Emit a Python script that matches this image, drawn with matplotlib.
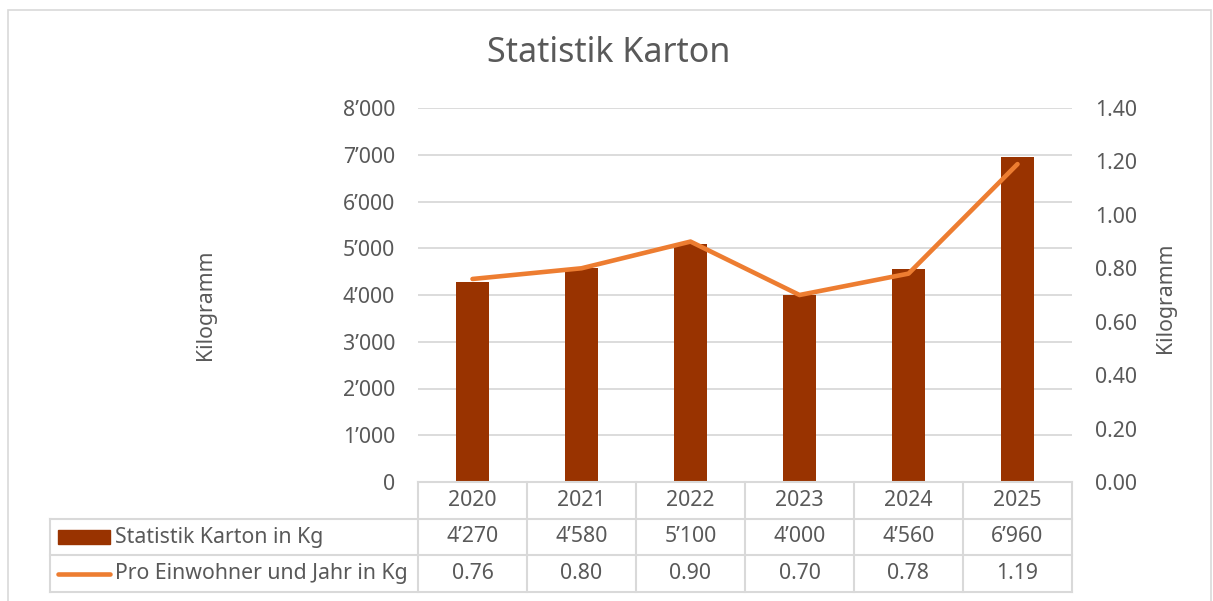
import matplotlib.pyplot as plt
from matplotlib.patches import Rectangle
from matplotlib.lines import Line2D

years = ["2020", "2021", "2022", "2023", "2024", "2025"]
karton_kg = [4270, 4580, 5100, 4000, 4560, 6960]
pro_einwohner = [0.76, 0.80, 0.90, 0.70, 0.78, 1.19]

bar_color = "#993300"
line_color = "#ED7D31"
grid_color = "#D9D9D9"
text_color = "#595959"

plt.rcParams['font.family'] = ['Noto Sans', 'DejaVu Sans']
fs = 15.3

W, H = 1213, 601
fig = plt.figure(figsize=(W / 100, H / 100), dpi=100)


def fx(px):
    return px / W


def fy(py):
    return 1 - py / H


# outer chart border
fig.patches.append(Rectangle((fx(8), fy(620)), fx(1203), fy(10) - fy(620),
                             transform=fig.transFigure, fill=False,
                             edgecolor=grid_color, linewidth=1.2))

left, right, top, bottom = 418, 1072, 108, 482
ax = fig.add_axes([fx(left), fy(bottom), fx(right - left), fy(top) - fy(bottom)])
x = range(len(years))
ax.bar(x, karton_kg, width=0.31, color=bar_color, zorder=2)
ax.set_xlim(-0.5, len(years) - 0.5)
ax.set_ylim(0, 8000)
ax.set_yticks(range(0, 8001, 1000))
ax.set_yticklabels([f"{v:,}".replace(",", "’") for v in range(0, 8001, 1000)],
                   color=text_color, fontsize=fs)
ax.yaxis.grid(True, color=grid_color, linewidth=1.3, zorder=0)
ax.set_xticks([])
for s in ax.spines.values():
    s.set_visible(False)
ax.tick_params(axis="y", length=0, pad=16.5)
ax.set_ylabel("Kilogramm", color=text_color, fontsize=fs)
ax.yaxis.set_label_coords((205 - left) / (right - left), (bottom - 305) / (bottom - top))
ax.yaxis.label.set_va("center")

ax2 = ax.twinx()
ax2.plot(x, pro_einwohner, color=line_color, linewidth=3.3,
         solid_capstyle="round", zorder=3)
ax2.set_ylim(0, 1.4)
ax2.set_yticks([i * 0.2 for i in range(8)])
ax2.set_yticklabels([f"{i * 0.2:.2f}" for i in range(8)], color=text_color, fontsize=fs)
ax2.tick_params(axis="y", length=0, pad=16.5)
for s in ax2.spines.values():
    s.set_visible(False)
ax2.set_ylabel("Kilogramm", color=text_color, fontsize=fs)
ax2.yaxis.set_label_coords((1165 - left) / (right - left), (bottom - 298) / (bottom - top))
ax2.yaxis.label.set_va("center")

fig.text(fx(609), fy(53), "Statistik Karton", ha="center", va="center",
         fontsize=24.5, color=text_color)

# data table below the plot
tleft, tbottom = 50, 592
cw = (right - left) / len(years)
x0 = -0.5 - (left - tleft) / cw
tab = fig.add_axes([fx(tleft), fy(tbottom), fx(right - tleft), fy(bottom) - fy(tbottom)])
tab.set_xlim(x0, len(years) - 0.5)
tab.set_ylim(0, 3)
tab.axis("off")
lk = dict(color=grid_color, linewidth=1.5, clip_on=False)
# horizontal lines
tab.plot([-0.5, len(years) - 0.5], [3, 3], **lk)
for yy in [2, 1, 0]:
    tab.plot([x0, len(years) - 0.5], [yy, yy], **lk)
# vertical lines
tab.plot([x0, x0], [0, 2], **lk)
for i in range(len(years) + 1):
    tab.plot([i - 0.5, i - 0.5], [0, 3], **lk)

for i, yr in enumerate(years):
    tab.text(i, 2.5, yr, ha="center", va="center", fontsize=fs, color=text_color)
    tab.text(i, 1.5, f"{karton_kg[i]:,}".replace(",", "’"), ha="center", va="center",
             fontsize=fs, color=text_color)
    tab.text(i, 0.5, f"{pro_einwohner[i]:.2f}", ha="center", va="center",
             fontsize=fs, color=text_color)

mk0 = x0 + 8 / cw
mk1 = x0 + 60 / cw
tab.add_patch(Rectangle((mk0, 1.3), mk1 - mk0, 0.4, color=bar_color, clip_on=False))
tab.add_line(Line2D([mk0, mk1], [0.5, 0.5], color=line_color, linewidth=3.3,
                    solid_capstyle="round"))
tab.text(x0 + 65 / cw, 1.5, "Statistik Karton in Kg", ha="left", va="center",
         fontsize=fs, color=text_color)
tab.text(x0 + 65 / cw, 0.5, "Pro Einwohner und Jahr in Kg", ha="left", va="center",
         fontsize=fs, color=text_color)

fig.savefig("out.png", dpi=100)
